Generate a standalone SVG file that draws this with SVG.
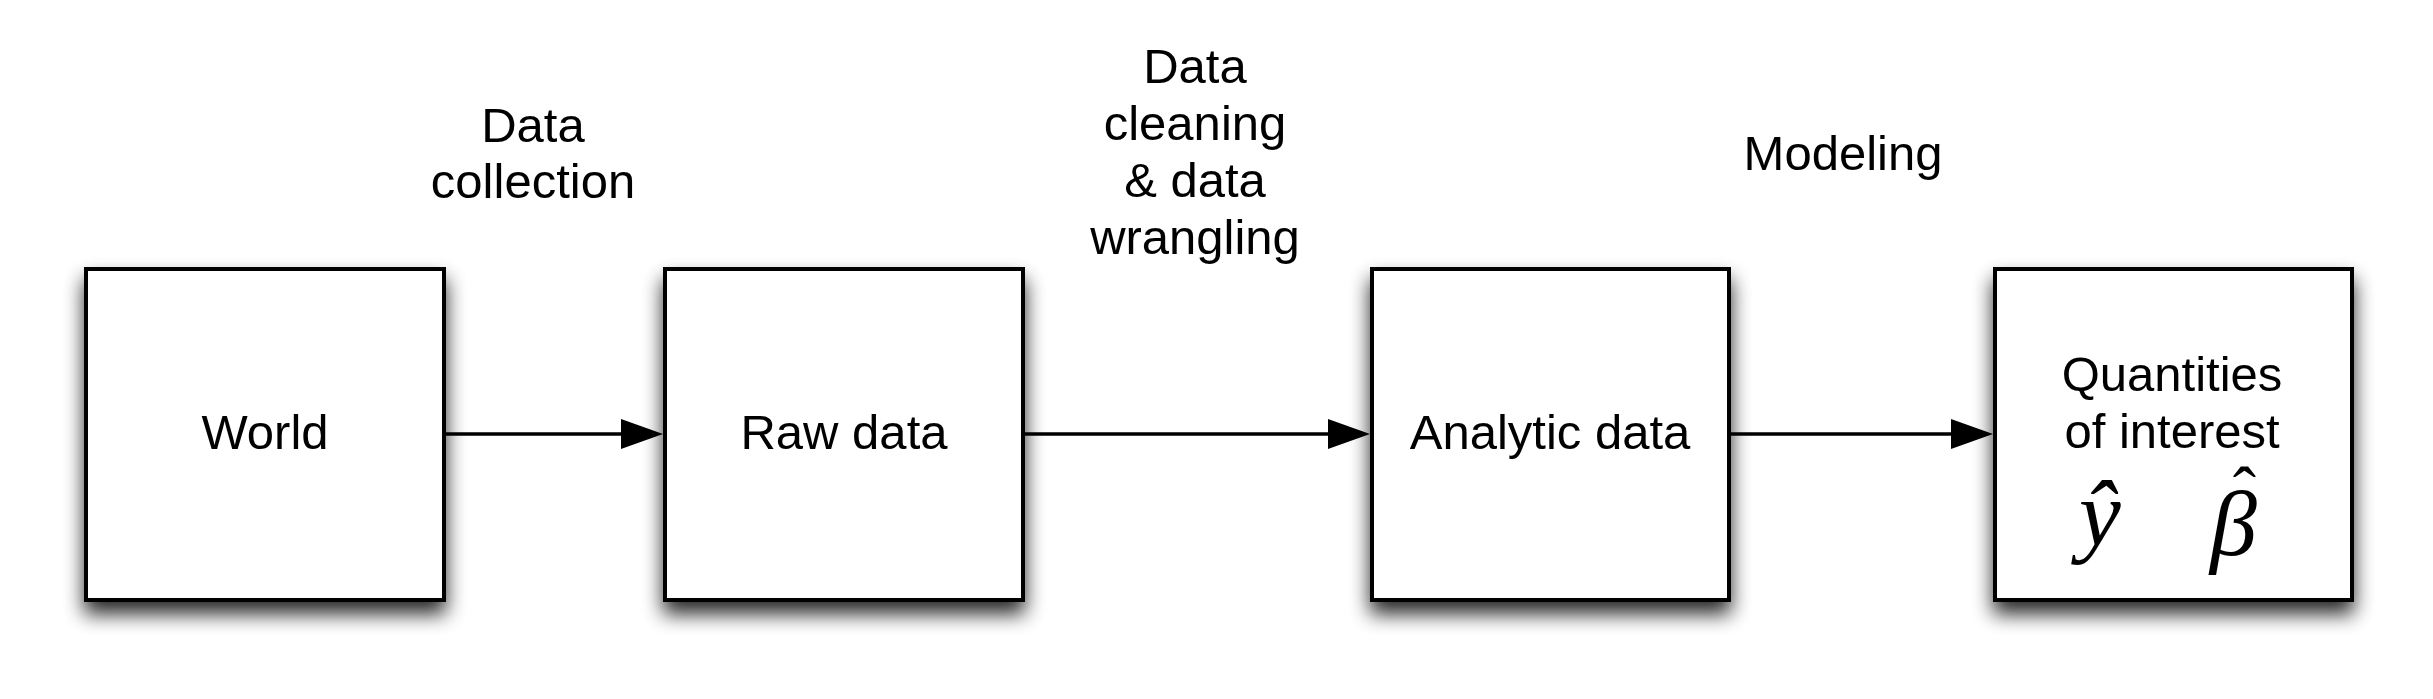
<svg xmlns="http://www.w3.org/2000/svg" width="2433" height="699" viewBox="0 0 2433 699">
  <defs>
    <filter id="shadow" x="-20%" y="-20%" width="140%" height="150%">
      <feGaussianBlur in="SourceAlpha" stdDeviation="10"/>
      <feOffset dx="0" dy="12" result="blur"/>
      <feComponentTransfer><feFuncA type="linear" slope="0.85"/></feComponentTransfer>
      <feMerge><feMergeNode/><feMergeNode in="SourceGraphic"/></feMerge>
    </filter>
    <marker id="arrow" markerUnits="userSpaceOnUse" markerWidth="44" markerHeight="32" refX="0" refY="15" orient="auto">
      <path d="M0,0 L42,15 L0,30 Z" fill="#000"/>
    </marker>
  </defs>
  <style>
    .box { fill: #fff; stroke: #000; stroke-width: 4; }
    .lbl { font-family: "Liberation Sans", Arial, sans-serif; font-size: 49px; fill: #000; text-anchor: middle; }
    .math { font-family: "Liberation Serif", "Times New Roman", serif; font-style: italic; font-size: 94px; fill: #000; }
    .hat { font-style: normal; font-size: 70px; }
    .edge { stroke: #000; stroke-width: 3.5; fill: none; marker-end: url(#arrow); }
  </style>
  <rect width="2433" height="699" fill="#fff"/>

  <g id="connectors">
    <line class="edge" x1="446" y1="434" x2="621" y2="434"/>
    <line class="edge" x1="1025" y1="434" x2="1328" y2="434"/>
    <line class="edge" x1="1731" y1="434" x2="1951" y2="434"/>
  </g>

  <g id="edge-labels">
    <text class="lbl" x="533" y="142">Data</text>
    <text class="lbl" x="533" y="198">collection</text>
    <text class="lbl" x="1195" y="83">Data</text>
    <text class="lbl" x="1195" y="140">cleaning</text>
    <text class="lbl" x="1195" y="197">&amp; data</text>
    <text class="lbl" x="1195" y="254">wrangling</text>
    <text class="lbl" x="1843" y="170">Modeling</text>
  </g>

  <g id="node-world">
    <rect class="box" x="86" y="269" width="358" height="331" filter="url(#shadow)"/>
    <text class="lbl" x="265" y="449">World</text>
  </g>
  <g id="node-raw">
    <rect class="box" x="665" y="269" width="358" height="331" filter="url(#shadow)"/>
    <text class="lbl" x="844" y="449">Raw data</text>
  </g>
  <g id="node-analytic">
    <rect class="box" x="1372" y="269" width="357" height="331" filter="url(#shadow)"/>
    <text class="lbl" x="1550" y="449">Analytic data</text>
  </g>
  <g id="node-quantities">
    <rect class="box" x="1995" y="269" width="357" height="331" filter="url(#shadow)"/>
    <text class="lbl" x="2172" y="391">Quantities</text>
    <text class="lbl" x="2172" y="448">of interest</text>
    <text class="math" x="2079" y="545">ŷ</text>
    <text class="math" x="2210" y="555">β<tspan class="hat" dx="-24" dy="-40">ˆ</tspan></text>
  </g>
</svg>
